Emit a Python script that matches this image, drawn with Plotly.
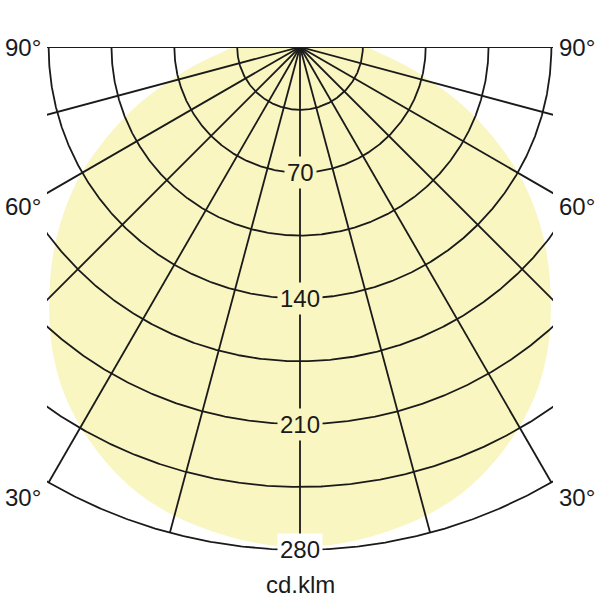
import numpy as np
import plotly.graph_objects as go

# Light distribution (cd/klm) from 0° (downward) to 90° (horizontal), symmetric
angles_deg = [0, 5, 10, 15, 20, 25, 30, 35, 40, 45, 50, 55, 60, 65, 70, 75, 80, 85, 90]
intensity = [278, 277, 274, 270, 264, 255, 244, 231, 215, 197, 179, 160, 140, 118, 97, 76, 59, 45, 35]

grid_radii = [35, 70, 105, 140, 175, 210, 245, 280]
radial_labels = [70, 140, 210, 280]
spoke_angles = list(range(-90, 91, 15))
angle_labels = ["90°", "60°", "30°"]
angle_label_vals = [90, 60, 30]
unit_label = "cd.klm"

FILL = "#f9f6c1"
INK = "#1a1a1a"
XMAX = 140.9
YMIN = -281.2

def to_xy(r, a_deg):
    a = np.radians(a_deg)
    return np.asarray(r) * np.sin(a), -np.asarray(r) * np.cos(a)

fig = go.Figure()

# yellow distribution (both halves)
full_ang = [-a for a in angles_deg[::-1]] + angles_deg[1:]
full_int = intensity[::-1] + intensity[1:]
fx, fy = to_xy(full_int, full_ang)
fx = np.concatenate([[0], fx, [0]])
fy = np.concatenate([[0], fy, [0]])
fig.add_trace(go.Scatter(x=fx, y=fy, mode="lines", fill="toself", fillcolor=FILL,
                         line=dict(color=FILL, width=1, shape="spline"), hoverinfo="skip", showlegend=False))

# arcs
arc_t = np.linspace(-90, 90, 721)
for r in grid_radii:
    ax, ay = to_xy(np.full_like(arc_t, r, dtype=float), arc_t)
    fig.add_trace(go.Scatter(x=ax, y=ay, mode="lines", line=dict(color=INK, width=1.8),
                             hoverinfo="skip", showlegend=False))

# spokes
for a in spoke_angles:
    sx, sy = to_xy([0, grid_radii[-1]], [a, a])
    fig.add_trace(go.Scatter(x=sx, y=sy, mode="lines", line=dict(color=INK, width=1.8),
                             hoverinfo="skip", showlegend=False))

annotations = []
for r in radial_labels:
    annotations.append(dict(x=0, y=-r, xref="x", yref="y", text=str(r), showarrow=False,
                            font=dict(family="Liberation Sans, Arial", size=24, color=INK),
                            bgcolor=FILL if r < 280 else "white", borderpad=2,
                            xanchor="center", yanchor="middle"))

label_shift = {90: 0, 60: -13, 30: -15}
for txt, a in zip(angle_labels, angle_label_vals):
    a_r = np.radians(a)
    if a == 90:
        yv = 0.0
    else:
        yv = -min(XMAX / np.tan(a_r), grid_radii[-1] * np.cos(a_r))
    for side in (-1, 1):
        annotations.append(dict(x=0 if side < 0 else 1, y=yv, xref="paper", yref="y", text=txt,
                                showarrow=False, xshift=-4 if side < 0 else 4,
                                yshift=label_shift[a],
                                font=dict(family="Liberation Sans, Arial", size=24, color=INK),
                                xanchor="right" if side < 0 else "left", yanchor="middle"))

annotations.append(dict(x=0.5, y=-0.064, xref="paper", yref="paper", text=unit_label, showarrow=False,
                        font=dict(family="Liberation Sans, Arial", size=24, color=INK),
                        xanchor="center", yanchor="middle"))

fig.update_layout(
    width=600, height=600,
    margin=dict(l=47, r=47, t=47, b=48, pad=0),
    paper_bgcolor="white", plot_bgcolor="white",
    xaxis=dict(range=[-XMAX, XMAX], visible=False, fixedrange=True),
    yaxis=dict(range=[YMIN, 0], visible=False, fixedrange=True),
    annotations=annotations,
    showlegend=False,
)

fig.write_html("out.html", config={"displayModeBar": False},
               post_script="document.body.style.margin='0';document.body.style.overflow='hidden';")
